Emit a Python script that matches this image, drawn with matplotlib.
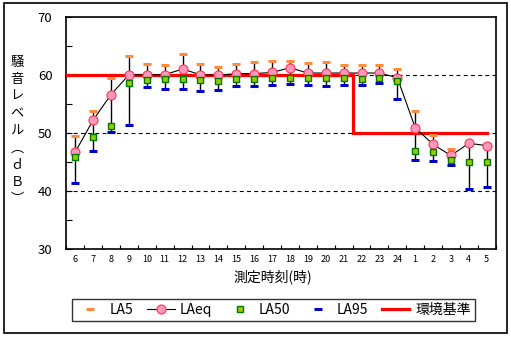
import numpy as np
import matplotlib
matplotlib.use('Agg')
import matplotlib.pyplot as plt
from matplotlib.patches import Rectangle
from matplotlib.lines import Line2D
from matplotlib.ticker import MultipleLocator

plt.rcParams['font.family'] = ['Noto Sans CJK JP', 'DejaVu Sans']

# 測定時刻 (6時 ~ 翌5時)
hours = ['6', '7', '8', '9', '10', '11', '12', '13', '14', '15', '16', '17',
         '18', '19', '20', '21', '22', '23', '24', '1', '2', '3', '4', '5']

la5 = [49.4, 53.8, 59.5, 63.3, 61.9, 61.6, 63.5, 61.9, 61.3, 61.9, 62.2, 62.3,
       62.4, 62.0, 62.2, 61.6, 61.6, 61.6, 61.0, 53.8, 49.7, 47.3, 48.4, 48.0]
laeq = [46.7, 52.2, 56.6, 60.0, 60.0, 60.0, 61.0, 60.0, 59.9, 60.2, 60.2, 60.4,
        61.2, 60.3, 60.3, 60.3, 60.3, 60.3, 59.5, 50.9, 48.0, 46.1, 48.2, 47.8]
la50 = [45.9, 49.3, 51.1, 58.6, 59.1, 59.3, 59.3, 59.1, 58.9, 59.3, 59.3, 59.4,
        59.4, 59.5, 59.4, 59.5, 59.3, 59.4, 59.0, 46.9, 46.7, 45.4, 44.9, 44.9]
la95 = [41.4, 46.9, 50.1, 51.4, 57.9, 57.6, 57.6, 57.2, 57.4, 58.1, 58.1, 58.2,
        58.4, 58.3, 58.1, 58.3, 58.3, 58.5, 55.8, 45.3, 45.2, 44.5, 40.4, 40.7]

# 環境基準 (昼間 60dB, 夜間 50dB, 22時から夜間)
std_day = 60
std_night = 50
night_start = '22'

x = np.arange(len(hours))
sw = hours.index(night_start) - 0.5
std_x = [-0.5, sw, sw, x[-1]]
std_y = [std_day, std_day, std_night, std_night]

W, H = 511, 337
fig = plt.figure(figsize=(W / 100, H / 100), dpi=100)
ax = fig.add_axes([66.3 / W, 1 - 249 / H, (495.7 - 66.3) / W, (249 - 16.7) / H])

for g in [40, 50, 60]:
    ax.axhline(g, color='black', lw=0.8, ls=(0, (3.5, 3)), zorder=1)

ax.vlines(x, la95, la5, color='black', lw=1.0, zorder=2)
ax.plot(std_x, std_y, color='#FF0000', lw=2.3, zorder=3, solid_joinstyle='miter')
ax.plot(x, la5, ls='none', marker='_', ms=5.5, mew=2.2, color='#FF8C3C', zorder=4)
ax.plot(x, la95, ls='none', marker='_', ms=5.5, mew=2.2, color='#0000CC', zorder=4)
ax.plot(x, laeq, color='black', lw=0.8, marker='o', ms=6.5,
        mfc='#FF99BB', mec='#FF3355', mew=0.8, zorder=5)
ax.plot(x, la50, ls='none', marker='s', ms=5, mfc='#99CC00', mec='#007700',
        mew=1.0, zorder=6)

ax.set_xlim(-0.5, len(hours) - 0.5)
ax.set_ylim(30, 70)
ax.set_xticks(x)
ax.set_xticklabels(hours, fontsize=6.5)
ax.xaxis.set_minor_locator(MultipleLocator(1, offset=0.5))
ax.tick_params(axis='x', which='major', length=0, pad=4)
ax.tick_params(axis='x', which='minor', direction='in', length=3, width=0.8)
ax.set_yticks([30, 40, 50, 60, 70])
ax.yaxis.set_minor_locator(MultipleLocator(5))
ax.tick_params(axis='y', which='both', direction='in', length=4, width=0.8,
               labelsize=9.5, pad=10)
for s in ax.spines.values():
    s.set_linewidth(1.2)

# 縦書きの軸ラベル
ylab = ['騒', '音', 'レ', 'ベ', 'ル', '︵', 'ｄ', 'Ｂ', '︶']
fig.text(17 / W, 1 - 131 / H, '\n'.join(ylab), ha='center', va='center',
         fontsize=9.5, linespacing=1.42)
fig.text(273 / W, 1 - 277 / H, '測定時刻(時)', ha='center', va='center',
         fontsize=10)

handles = [
    Line2D([], [], ls='none', marker='_', ms=5.5, mew=2.2, color='#FF8C3C'),
    Line2D([], [], color='black', lw=0.8, marker='o', ms=6.5,
           mfc='#FF99BB', mec='#FF3355', mew=0.8),
    Line2D([], [], ls='none', marker='s', ms=5, mfc='#99CC00', mec='#007700', mew=1.0),
    Line2D([], [], ls='none', marker='_', ms=5.5, mew=2.2, color='#0000CC'),
    Line2D([], [], color='#FF0000', lw=2.3),
]
labels = ['LA5', 'LAeq', 'LA50', 'LA95', '環境基準']
leg = fig.legend(handles, labels, loc='center', ncol=5,
                 bbox_to_anchor=(273.5 / W, 1 - 310 / H), fontsize=10,
                 frameon=True, fancybox=False, edgecolor='black',
                 handlelength=2.0, handletextpad=0.4, columnspacing=0.95,
                 borderpad=0.3, borderaxespad=0)
leg.get_frame().set_linewidth(1.0)

fig.patches.append(Rectangle((4 / W, 1 - 333 / H), 503 / W, 330 / H,
                             transform=fig.transFigure, fill=False,
                             edgecolor='black', lw=1.2))

fig.savefig('out.png', dpi=100)
